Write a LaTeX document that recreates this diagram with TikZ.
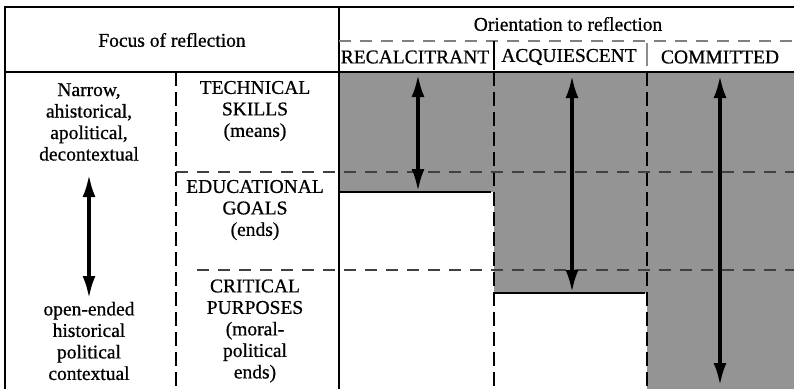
\documentclass[tikz,border=0pt]{standalone}
\usepackage{fontspec}
\setmainfont{Liberation Serif}
\newfontfamily\scanfont[FakeBold=0.7]{Liberation Serif}
\usepackage{tikz}
\usetikzlibrary{arrows.meta}

\begin{document}
\begin{tikzpicture}[x=1pt,y=-1pt,
  t/.style={align=center, inner sep=0pt, font=\scanfont\fontsize{19.5}{21.5}\selectfont},
  dsh/.style={line width=1.7pt, dash pattern=on 12pt off 9pt},
  vd/.style={line width=1.7pt, dash pattern=on 14pt off 6pt},
  arr/.style={line width=3.2pt, {Latex[length=22pt,width=13pt]}-{Latex[length=22pt,width=13pt]}},
  frame/.style={line width=1.9pt}]
\useasboundingbox (0,0) rectangle (794,389);
% shaded cells
\fill[black!42] (339,72) rectangle (494,192);
\fill[black!42] (494,72) rectangle (647,293);
\fill[black!42] (647,72) rectangle (794,389);
% frame
\draw[frame] (5,389) -- (5,7) -- (794,7);
\draw[frame] (5,72) -- (794,72);
\draw[frame] (339,7) -- (339,389);
\draw[dsh, black!50] (339,41) -- (794,41);
\draw[line width=1.3pt] (494,41) -- (494,70);
\draw[line width=1.3pt, black!45] (647,43) -- (647,66);
% grid in the body
\draw[vd] (176,72) -- (176,389);
\draw[vd] (494,72) -- (494,389);
\draw[vd] (647,72) -- (647,389);
\draw[dsh, black!75] (176,172) -- (794,172);
\draw[dsh, black!75] (197,270) -- (794,270);
\draw[line width=1.5pt] (339,192) -- (491,192);
\draw[line width=1.5pt] (494,293) -- (645,293);
% headings
\node[t] (focus) at (172,40) {Focus of reflection};
\node[t] (orient) at (568,24) {Orientation to reflection};
\node[t] (recal) at (415,57) {RECALCITRANT};
\node[t] (acqui) at (569,57) {ACQUIESCENT};
\node[t] (commit) at (720,57) {COMMITTED};
% left column
\node[t] (narrow) at (89,122) {Narrow,\\ahistorical,\\apolitical,\\decontextual};
\node[t] (open) at (89,341) {open-ended\\historical\\political\\contextual};
\node[t] (tech) at (255,111) {TECHNICAL\\SKILLS\\(means)};
\node[t] (goals) at (255,210) {EDUCATIONAL\\GOALS\\(ends)};
\node[t] (crit) at (255,331) {CRITICAL\\PURPOSES\\(moral-\\political\\ends)};
% arrows
\coordinate (l1) at (89,175);  \coordinate (l2) at (89,298);
\coordinate (r1) at (418,75);  \coordinate (r2) at (418,191);
\coordinate (a1) at (572,76);  \coordinate (a2) at (572,292);
\coordinate (c1) at (720,76);  \coordinate (c2) at (720,385);
\foreach \a/\b in {l1/l2,r1/r2,a1/a2,c1/c2}
  \draw[arr] (\a) -- (\b);
\end{tikzpicture}
\end{document}
